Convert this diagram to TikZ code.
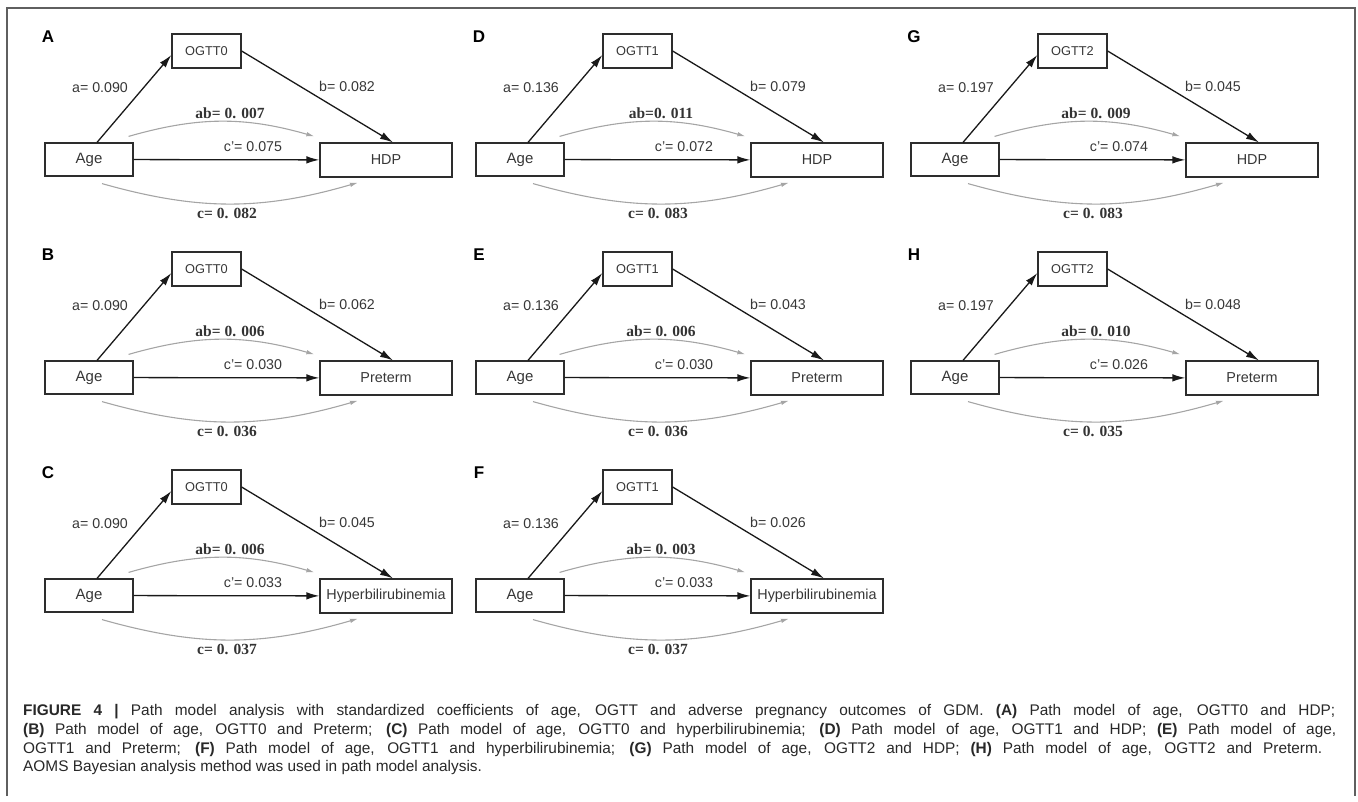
\documentclass[tikz,border=0pt]{standalone}
\usepackage{fontspec}
\setmainfont{Liberation Sans}
\newfontfamily\numserif{Liberation Serif}
\usetikzlibrary{arrows.meta}
\definecolor{boxc}{RGB}{45,45,45}
\definecolor{txt}{RGB}{55,55,55}
\definecolor{curv}{RGB}{165,165,165}
\definecolor{framec}{RGB}{95,95,95}
\definecolor{capc}{RGB}{40,40,40}
\tikzset{
  pbox/.style={draw=boxc, line width=1.2pt, inner sep=0pt, text=txt, font=\fontsize{15}{17}\selectfont},
  medbox/.style={pbox, minimum width=69pt, minimum height=34pt, font=\fontsize{12.8}{14}\selectfont},
  agebox/.style={pbox, minimum width=88pt, minimum height=33pt},
  outbox/.style={pbox, minimum width=132pt, minimum height=34pt, font=\fontsize{14.4}{16}\selectfont},
  blk/.style={draw=black!90, line width=1.3pt, -{Latex[length=13pt,width=7.5pt]}},
  gry/.style={draw=curv, line width=1.1pt, -{Latex[length=8pt,width=4.5pt]}},
  slab/.style={text=txt, inner sep=0pt, font=\fontsize{14.2}{16}\selectfont},
  nlab/.style={text=black!80, inner sep=0pt, font=\numserif\bfseries\fontsize{15.5}{17}\selectfont},
  plab/.style={text=black, inner sep=0pt, font=\bfseries\fontsize{17}{19}\selectfont},
  capline/.style={anchor=base west, inner sep=0pt, text=capc, font=\fontsize{15.4}{18}\selectfont},
  framel/.style={draw=framec, line width=1.5pt}
}
\begin{document}
\begin{tikzpicture}[x=1pt, y=-1pt]
\useasboundingbox (0,0) rectangle (1358,802);
\draw[framel] (7,796) -- (7,8) -- (1355,8) -- (1355,796);
\foreach \pl/\ox/\oy/\med/\out/\va/\vb/\vab/\vcp/\vc in {
  A/0/0/OGTT0/HDP/0.090/0.082/ab= 0. 007/0.075/0. 082,
  B/0/218/OGTT0/Preterm/0.090/0.062/ab= 0. 006/0.030/0. 036,
  C/0/436/OGTT0/Hyperbilirubinemia/0.090/0.045/ab= 0. 006/0.033/0. 037,
  D/431/0/OGTT1/HDP/0.136/0.079/ab=0. 011/0.072/0. 083,
  E/431/218/OGTT1/Preterm/0.136/0.043/ab= 0. 006/0.030/0. 036,
  F/431/436/OGTT1/Hyperbilirubinemia/0.136/0.026/ab= 0. 003/0.033/0. 037,
  G/866/0/OGTT2/HDP/0.197/0.045/ab= 0. 009/0.074/0. 083,
  H/866/218/OGTT2/Preterm/0.197/0.048/ab= 0. 010/0.026/0. 035}{
  \begin{scope}[shift={(\ox,\oy)}]
    \node[plab] (let\pl) at (48,37) {\pl};
    \node[medbox] (med\pl) at (206.5,51) {\med};
    \node[agebox] (age\pl) at (89,159.5) {Age};
    \node[outbox] (out\pl) at (386,160) {\out};
    \draw[blk] ([xshift=8pt]age\pl.north) -- ([yshift=-4pt]med\pl.west);
    \draw[blk] (med\pl.east) -- ([xshift=7pt]out\pl.north);
    \draw[blk] (age\pl) -- (out\pl);
    \draw[gry] ([xshift=-5pt,yshift=6pt]age\pl.north east) to[bend left=16] ([xshift=-5pt,yshift=6pt]out\pl.north west);
    \draw[gry] ([xshift=13pt,yshift=-7pt]age\pl.south) to[bend right=16] ([xshift=-28pt,yshift=-5pt]out\pl.south);
    \node[slab] (la\pl) at (100,88) {a= \va};
    \node[slab] (lb\pl) at (347,86) {b= \vb};
    \node[nlab] (lab\pl) at (230,113) {\vab};
    \node[slab] (lcp\pl) at (253,147) {c'= \vcp};
    \node[nlab] (lc\pl) at (227,213) {c= \vc};
  \end{scope}
}
\node[capline] (cap1) at (23,715.5) {\makebox[1312pt][s]{\textbf{FIGURE 4 |} Path model analysis with standardized coefficients of age, OGTT and adverse pregnancy outcomes of GDM. \textbf{(A)} Path model of age, OGTT0 and HDP;}};
\node[capline] (cap2) at (23,734.5) {\makebox[1313pt][s]{\textbf{(B)} Path model of age, OGTT0 and Preterm; \textbf{(C)} Path model of age, OGTT0 and hyperbilirubinemia; \textbf{(D)} Path model of age, OGTT1 and HDP; \textbf{(E)} Path model of age,}};
\node[capline] (cap3) at (23,753) {\makebox[1299pt][s]{OGTT1 and Preterm; \textbf{(F)} Path model of age, OGTT1 and hyperbilirubinemia; \textbf{(G)} Path model of age, OGTT2 and HDP; \textbf{(H)} Path model of age, OGTT2 and Preterm.}};
\node[capline] (cap4) at (23,771.5) {AOMS Bayesian analysis method was used in path model analysis.};
\end{tikzpicture}
\end{document}
